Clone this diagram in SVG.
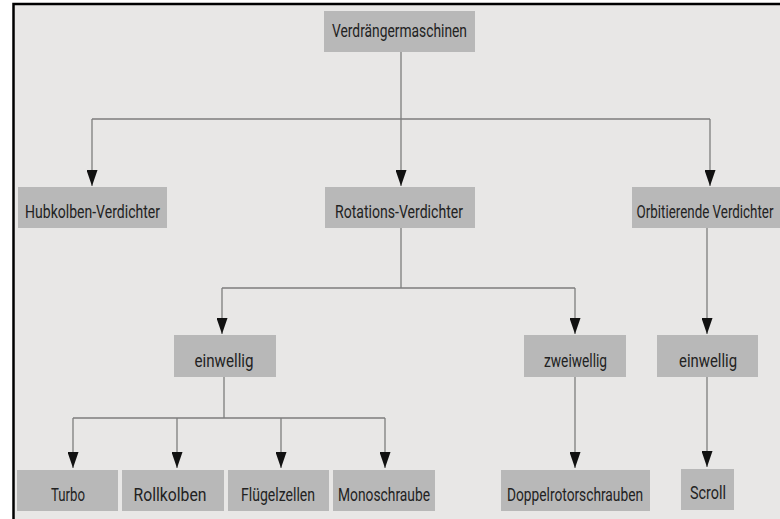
<svg xmlns="http://www.w3.org/2000/svg" width="780" height="519" viewBox="0 0 780 519">
<defs>
<marker id="ah" markerWidth="16" markerHeight="11" refX="16" refY="5.5" orient="auto" markerUnits="userSpaceOnUse" viewBox="0 0 16 11">
<path d="M0,0 L16,5.5 L0,11 Z" fill="#111"/>
</marker>
<style>
.box{fill:#b8b8b8}
.t{font-family:Roboto,"DejaVu Sans",sans-serif;font-size:19px;fill:#222;text-anchor:middle}
.c{fill:none;stroke:#7d7d7d;stroke-width:1.3}
.a{fill:none;stroke:#7d7d7d;stroke-width:1.3;marker-end:url(#ah)}
</style>
</defs>
<rect x="0" y="0" width="780" height="519" fill="#ffffff"/>
<rect x="13.5" y="4" width="780" height="530" fill="#e8e7e6" stroke="#000" stroke-width="2.5"/>
<g id="connectors">
<path class="c" d="M401,52 V119 M92,119 H710"/>
<path class="a" d="M92,119 V186"/>
<path class="a" d="M401,119 V186"/>
<path class="a" d="M710,119 V186"/>
<path class="c" d="M401,228 V288 M222,288 H575"/>
<path class="a" d="M222,288 V334"/>
<path class="a" d="M575,288 V334"/>
<path class="a" d="M707,228 V334"/>
<path class="c" d="M224,377 V418 M73,418 H385"/>
<path class="a" d="M73,418 V468"/>
<path class="a" d="M177,418 V468"/>
<path class="a" d="M281,418 V468"/>
<path class="a" d="M385,418 V468"/>
<path class="a" d="M575,377 V468"/>
<path class="a" d="M707,377 V467"/>
</g>
<g id="n-root"><rect class="box" x="324" y="11" width="151" height="41"/><text class="t" x="399.5" y="37" textLength="135" lengthAdjust="spacingAndGlyphs">Verdrängermaschinen</text></g>
<g id="n-hub"><rect class="box" x="18" y="187" width="149" height="41"/><text class="t" x="92.5" y="218" textLength="135" lengthAdjust="spacingAndGlyphs">Hubkolben-Verdichter</text></g>
<g id="n-rot"><rect class="box" x="325" y="187" width="150" height="41"/><text class="t" x="399" y="218" textLength="128" lengthAdjust="spacingAndGlyphs">Rotations-Verdichter</text></g>
<g id="n-orb"><rect class="box" x="632" y="187" width="148" height="41"/><text class="t" x="705" y="218" textLength="137" lengthAdjust="spacingAndGlyphs">Orbitierende Verdichter</text></g>
<g id="n-ein1"><rect class="box" x="174" y="335" width="102" height="42"/><text class="t" x="224" y="367" textLength="59" lengthAdjust="spacingAndGlyphs">einwellig</text></g>
<g id="n-zwei"><rect class="box" x="524" y="335" width="102" height="42"/><text class="t" x="575.5" y="367" textLength="63" lengthAdjust="spacingAndGlyphs">zweiwellig</text></g>
<g id="n-ein2"><rect class="box" x="657" y="335" width="101" height="42"/><text class="t" x="708" y="367" textLength="58" lengthAdjust="spacingAndGlyphs">einwellig</text></g>
<g id="n-turbo"><rect class="box" x="17" y="470" width="101" height="41"/><text class="t" x="68" y="501" textLength="34" lengthAdjust="spacingAndGlyphs">Turbo</text></g>
<g id="n-roll"><rect class="box" x="122" y="470" width="102" height="41"/><text class="t" x="170" y="501" textLength="73" lengthAdjust="spacingAndGlyphs">Rollkolben</text></g>
<g id="n-flue"><rect class="box" x="228" y="470" width="101" height="41"/><text class="t" x="278" y="501" textLength="74" lengthAdjust="spacingAndGlyphs">Flügelzellen</text></g>
<g id="n-mono"><rect class="box" x="333" y="470" width="102" height="41"/><text class="t" x="384" y="501" textLength="92" lengthAdjust="spacingAndGlyphs">Monoschraube</text></g>
<g id="n-dopp"><rect class="box" x="501" y="470" width="149" height="41"/><text class="t" x="575" y="501" textLength="136" lengthAdjust="spacingAndGlyphs">Doppelrotorschrauben</text></g>
<g id="n-scroll"><rect class="box" x="681" y="469" width="53" height="41"/><text class="t" x="708" y="499" textLength="36" lengthAdjust="spacingAndGlyphs">Scroll</text></g>
</svg>
